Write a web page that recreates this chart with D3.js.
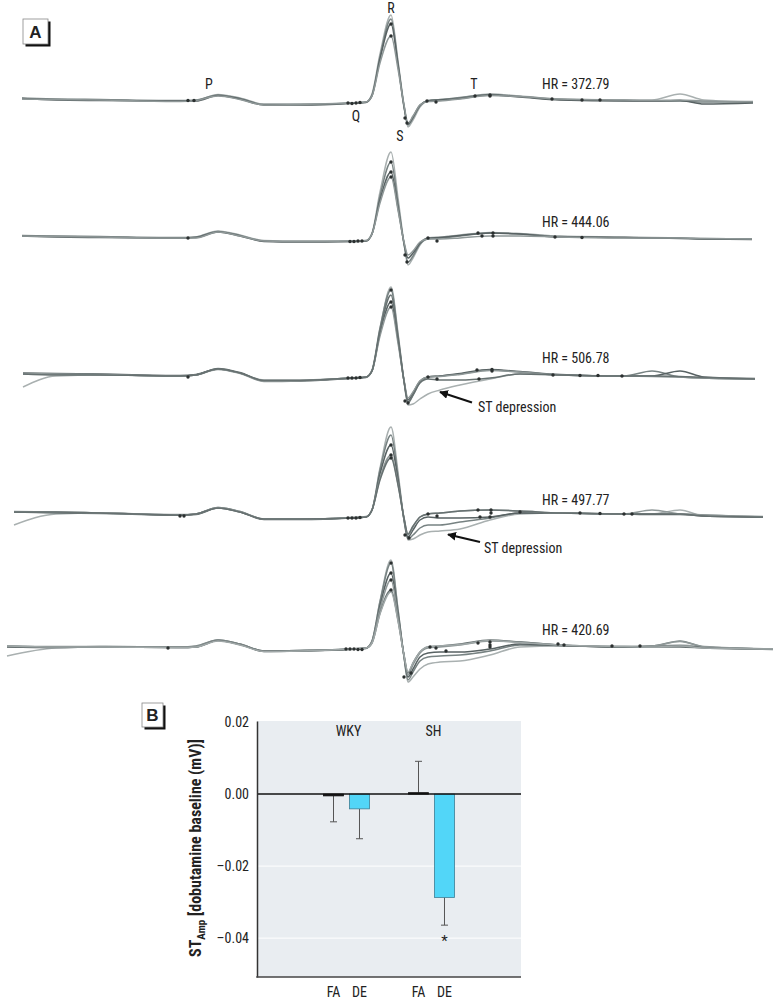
<!DOCTYPE html>
<html>
<head>
<meta charset="utf-8">
<script src="https://cdn.jsdelivr.net/npm/d3@7"></script>
<style>
  body { margin: 0; background: #fff; }
  svg text { font-family: "Liberation Sans Narrow", "Arial Narrow", "Roboto Condensed", sans-serif; fill: #222; }
</style>
</head>
<body>
<div id="chart"></div>
<script>
// ---------- panel A data: averaged ECG complexes (time in ms from R peak, voltage in mV) ----------
var timeMid = [-84, -73, -53, -49, -43.5, -38, -32, -23, -10.5, -6.5, -5, -3, -0.25, 1.5, 3, 4, 5.25, 7, 9, 12, 17, 24.5, 32, 42, 58, 65, 72, 78];
var rowStart = [-92.5, -92.5, -92.25, -94.5, -96.25];
var rowEnd = [90.25, 90, 90.75, 92.75, 95.25];
var heartRates = ["372.79", "444.06", "506.78", "497.77", "420.69"];

var traces1 = [
  [0, -0.005, -0.01, -0.02, -0.015, 0.045, 0.01, -0.05, -0.05, -0.04, -0.03, 0.05, 0.45, 0.84, 0.38, -0.06, -0.28, -0.21, -0.08, -0.02, -0.01, 0.01, 0.05, 0.03, 0.0, -0.01, -0.01, 0.05, -0.01, -0.03],
  [0.01, 0.0, -0.005, -0.015, -0.01, 0.04, 0.005, -0.055, -0.055, -0.04, -0.03, 0.04, 0.42, 0.80, 0.36, -0.07, -0.26, -0.19, -0.07, -0.015, -0.005, 0.015, 0.045, 0.025, -0.005, -0.015, -0.02, -0.02, -0.03, -0.03],
  [0.005, -0.01, -0.015, -0.02, -0.02, 0.035, 0.0, -0.06, -0.06, -0.045, -0.035, 0.03, 0.40, 0.75, 0.34, -0.08, -0.25, -0.18, -0.06, -0.02, -0.01, 0.005, 0.04, 0.02, -0.01, -0.02, -0.02, -0.015, -0.05, -0.04],
  [0.0, -0.005, -0.01, -0.025, -0.015, 0.03, -0.005, -0.06, -0.055, -0.04, -0.03, 0.03, 0.36, 0.63, 0.30, -0.06, -0.24, -0.17, -0.06, -0.025, -0.02, 0.0, 0.035, 0.025, 0.0, -0.01, -0.015, -0.01, -0.02, -0.025]
];
var traces2 = [
  [0, -0.005, -0.01, -0.02, -0.01, 0.05, 0.01, -0.045, -0.05, -0.05, -0.045, 0.03, 0.44, 0.84, 0.38, -0.07, -0.29, -0.22, -0.09, -0.02, -0.01, 0.01, 0.035, 0.025, 0.0, -0.01, -0.015, -0.02, -0.025, -0.03],
  [0.005, 0.0, -0.005, -0.015, -0.01, 0.045, 0.005, -0.05, -0.055, -0.055, -0.05, 0.02, 0.40, 0.74, 0.33, -0.08, -0.26, -0.2, -0.08, -0.03, -0.02, 0.0, 0.03, 0.02, -0.005, -0.015, -0.02, -0.02, -0.03, -0.03],
  [0.0, -0.01, -0.015, -0.02, -0.015, 0.04, 0.0, -0.055, -0.06, -0.055, -0.05, 0.02, 0.36, 0.64, 0.28, -0.07, -0.22, -0.17, -0.07, -0.02, -0.015, 0.005, 0.03, 0.02, -0.01, -0.015, -0.02, -0.025, -0.03, -0.035],
  [0.0, -0.005, -0.01, -0.02, -0.02, 0.04, 0.0, -0.05, -0.055, -0.05, -0.045, 0.02, 0.33, 0.59, 0.26, -0.06, -0.19, -0.15, -0.06, -0.03, -0.03, -0.02, 0.0, 0.0, -0.01, -0.02, -0.02, -0.02, -0.025, -0.03]
];
var traces3 = [
  [-0.14, -0.03, -0.02, -0.03, -0.02, 0.04, 0.0, -0.07, -0.07, -0.05, -0.04, 0.02, 0.44, 0.86, 0.40, -0.08, -0.32, -0.31, -0.26, -0.21, -0.17, -0.12, -0.06, -0.01, -0.02, -0.03, -0.03, -0.04, -0.05, -0.06],
  [-0.01, -0.01, -0.015, -0.03, -0.02, 0.045, 0.005, -0.075, -0.075, -0.05, -0.04, 0.03, 0.45, 0.83, 0.38, -0.08, -0.30, -0.22, -0.09, -0.04, -0.03, -0.01, 0.03, 0.01, -0.02, -0.03, 0.02, -0.04, -0.05, -0.06],
  [0.0, -0.005, -0.01, -0.025, -0.015, 0.04, 0.0, -0.08, -0.08, -0.055, -0.045, 0.02, 0.40, 0.71, 0.33, -0.08, -0.27, -0.2, -0.08, -0.04, -0.03, -0.005, 0.035, 0.015, -0.015, -0.03, -0.03, 0.02, -0.04, -0.055],
  [-0.005, -0.01, -0.015, -0.03, -0.02, 0.035, -0.005, -0.085, -0.08, -0.05, -0.04, 0.02, 0.37, 0.66, 0.30, -0.07, -0.25, -0.19, -0.08, -0.04, -0.035, -0.015, 0.025, 0.01, -0.02, -0.03, -0.035, -0.04, -0.05, -0.06],
  [-0.01, -0.02, -0.02, -0.03, -0.02, 0.04, 0.0, -0.075, -0.075, -0.05, -0.04, 0.02, 0.42, 0.78, 0.35, -0.08, -0.29, -0.22, -0.1, -0.06, -0.07, -0.07, -0.05, -0.01, -0.02, -0.03, -0.03, -0.035, -0.045, -0.06]
];
var traces4 = [
  [-0.15, -0.04, -0.03, -0.05, -0.04, 0.02, -0.02, -0.09, -0.09, -0.08, -0.07, 0.0, 0.42, 0.83, 0.38, -0.1, -0.30, -0.29, -0.25, -0.22, -0.21, -0.19, -0.10, -0.04, -0.03, -0.04, -0.04, 0.0, -0.06, -0.07],
  [-0.02, -0.03, -0.035, -0.05, -0.04, 0.025, -0.015, -0.09, -0.09, -0.08, -0.07, 0.0, 0.40, 0.75, 0.34, -0.1, -0.29, -0.25, -0.18, -0.15, -0.15, -0.12, -0.08, -0.03, -0.03, -0.04, -0.04, -0.04, -0.05, -0.07],
  [-0.02, -0.025, -0.03, -0.05, -0.045, 0.02, -0.02, -0.095, -0.095, -0.08, -0.07, 0.0, 0.36, 0.65, 0.30, -0.09, -0.27, -0.2, -0.1, -0.07, -0.08, -0.08, -0.07, -0.03, -0.03, -0.04, -0.045, -0.045, -0.06, -0.07],
  [-0.015, -0.02, -0.03, -0.045, -0.04, 0.025, -0.015, -0.09, -0.09, -0.075, -0.065, 0.0, 0.32, 0.55, 0.26, -0.08, -0.25, -0.17, -0.07, -0.04, -0.03, -0.01, 0.0, -0.01, -0.03, -0.04, 0.0, -0.04, -0.05, -0.065],
  [-0.02, -0.02, -0.03, -0.05, -0.04, 0.02, -0.02, -0.09, -0.09, -0.08, -0.07, 0.0, 0.30, 0.52, 0.25, -0.08, -0.24, -0.16, -0.07, -0.04, -0.03, -0.01, 0.0, -0.01, -0.03, -0.04, -0.04, -0.04, -0.06, -0.07]
];
var traces5 = [
  [-0.09, -0.01, 0.0, 0.0, 0.005, 0.07, 0.03, -0.04, -0.035, -0.02, -0.01, 0.06, 0.46, 0.87, 0.38, -0.1, -0.35, -0.3, -0.22, -0.17, -0.15, -0.14, -0.08, 0.0, 0.01, 0.0, 0.01, 0.02, 0.0, -0.02],
  [0.01, 0.0, 0.005, 0.0, 0.01, 0.07, 0.03, -0.04, -0.035, -0.02, -0.01, 0.06, 0.45, 0.84, 0.37, -0.1, -0.33, -0.25, -0.14, -0.1, -0.09, -0.08, -0.04, 0.02, 0.015, 0.005, 0.01, 0.06, 0.0, -0.02],
  [0.0, -0.005, 0.0, -0.005, 0.0, 0.065, 0.025, -0.045, -0.04, -0.025, -0.015, 0.05, 0.41, 0.74, 0.33, -0.09, -0.30, -0.22, -0.1, -0.06, -0.05, -0.05, -0.02, 0.03, 0.015, 0.0, 0.005, 0.01, -0.005, -0.02],
  [0.01, 0.005, 0.005, 0.0, 0.005, 0.07, 0.03, -0.04, -0.035, -0.02, -0.01, 0.05, 0.38, 0.67, 0.30, -0.09, -0.28, -0.18, -0.06, -0.01, 0.0, 0.02, 0.06, 0.05, 0.02, 0.005, 0.01, 0.055, 0.005, -0.02],
  [0.005, 0.0, 0.0, -0.005, 0.0, 0.065, 0.025, -0.04, -0.04, -0.02, -0.01, 0.04, 0.34, 0.57, 0.27, -0.08, -0.26, -0.16, -0.05, 0.0, 0.01, 0.03, 0.07, 0.05, 0.02, 0.0, 0.0, 0.0, -0.01, -0.025],
  [0.01, 0.0, 0.0, -0.005, 0.0, 0.06, 0.02, -0.045, -0.04, -0.02, -0.01, 0.04, 0.33, 0.55, 0.26, -0.08, -0.25, -0.16, -0.05, 0.0, 0.01, 0.025, 0.065, 0.045, 0.02, 0.005, 0.0, 0.01, -0.01, -0.02]
];
var allTraces = [traces1, traces2, traces3, traces4, traces5];

// fiducial points [ms, mV]
var markers1 = [[-51, -0.015], [-49.5, -0.015], [-11, -0.04], [-10, -0.045], [-9, -0.04], [-8, -0.035], [-0.25, 0.75], [-0.25, 0.63], [3.25, -0.19], [3.75, -0.24], [8.75, -0.02], [11, -0.03], [20.75, 0.03], [24.5, 0.04], [24.5, 0.03], [40, 0.0], [47.5, -0.01], [52, -0.01]];
var markers2 = [[-51, -0.02], [-10.5, -0.055], [-9.5, -0.055], [-8.5, -0.05], [-7.5, -0.05], [-0.25, 0.74], [-0.25, 0.64], [-0.25, 0.59], [3.25, -0.19], [3.75, -0.26], [9, -0.02], [11.25, -0.05], [21.5, 0.03], [22.5, 0.0], [25.25, 0.03], [25.25, 0.0], [40.75, -0.01], [47.5, -0.015]];
var markers3 = [[-51, -0.04], [-11, -0.05], [-10, -0.05], [-9, -0.05], [-8, -0.045], [-0.25, 0.83], [-0.25, 0.71], [-0.25, 0.66], [3.25, -0.28], [4, -0.3], [9, -0.04], [11.25, -0.06], [21.75, -0.06], [21.25, 0.03], [25, 0.035], [25, 0.02], [40.25, -0.02], [47, -0.025], [51.5, -0.025], [57.5, -0.03]];
var markers4 = [[-53, -0.06], [-52, -0.06], [-11, -0.08], [-10, -0.08], [-9, -0.08], [-8, -0.075], [-0.25, 0.65], [-0.25, 0.55], [-0.25, 0.52], [3.25, -0.25], [4.25, -0.28], [9, -0.04], [11.25, -0.06], [22, -0.07], [24.5, -0.07], [21.5, 0.0], [24.75, 0.0], [24.75, -0.03], [32, -0.02], [47, -0.03], [52, -0.035], [58, -0.04], [60, -0.04]];
var markers5 = [[-56, -0.01], [-11.5, -0.02], [-10.5, -0.02], [-9.5, -0.02], [-8.5, -0.025], [-7.5, -0.025], [-0.25, 0.84], [-0.25, 0.74], [-0.25, 0.67], [-0.25, 0.57], [3, -0.3], [4.75, -0.26], [9.5, 0.0], [11, -0.01], [13.5, -0.04], [21.5, 0.04], [24.5, 0.05], [24.5, 0.0], [24.5, 0.02], [41.5, 0.03], [43, 0.02], [55, 0.01], [62, 0.01]];
var allMarkers = [markers1, markers2, markers3, markers4, markers5];

// wave labels on first complex [label, ms, mV]
var waveLabels = [["P", -45.75, 0.10], ["Q", -9, -0.22], ["R", -0.25, 0.86], ["S", 2, -0.42], ["T", 20.5, 0.10]];
var hrLabelV = [0.10, 0.09, 0.10, 0.05, 0.12];
// ST depression notes [row, text ms, text mV, arrow tail ms, tail mV, tip ms, tip mV]
var stNotes = [[2, 21.5, -0.39, 20, -0.295, 12, -0.19], [3, 23, -0.43, 22, -0.32, 14, -0.245]];

// ---------- panel B data ----------
var groups = ["WKY", "SH"];
var exposures = ["FA", "DE"];
var stAmp = [
  { group: "WKY", exp: "FA", value: -0.0005, err: 0.0072 },
  { group: "WKY", exp: "DE", value: -0.0041, err: 0.0083 },
  { group: "SH", exp: "FA", value: 0.0004, err: 0.0087 },
  { group: "SH", exp: "DE", value: -0.0287, err: 0.0077 }
];
var yTicks = [0.02, 0, -0.02, -0.04];

var svgWidth = 778;
var svgHeight = 999;

var svg = d3.select("#chart")
  .append("svg")
  .attr("width", svgWidth)
  .attr("height", svgHeight);

// ================= Panel A =================
var xEcg = d3.scaleLinear().domain([-98, 96]).range([0, 776]);
var rowY = d3.scalePoint().domain(d3.range(5)).range([99, 647]);
var yEcg = d3.scaleLinear().domain([0, 1]).range([0, -100]);

var traceColors = ["#a9b0b0", "#778282", "#586263", "#8f9898", "#677171", "#a0a8a8"];

svg.append("defs").append("marker")
  .attr("id", "arrow")
  .attr("viewBox", "0 0 10 10")
  .attr("refX", 9)
  .attr("refY", 5)
  .attr("markerWidth", 4)
  .attr("markerHeight", 4)
  .attr("orient", "auto")
  .append("path")
  .attr("d", "M0,0L10,5L0,10z")
  .attr("fill", "#111");

allTraces.forEach(function(rowTraces, r) {
  var times = [rowStart[r]].concat(timeMid, [rowEnd[r]]);
  var line = d3.line()
    .x(function(d, i) { return xEcg(times[i]); })
    .y(function(d) { return yEcg(d); })
    .curve(d3.curveMonotoneX);

  var g = svg.append("g")
    .attr("transform", `translate(0, ${rowY(r)})`);

  g.selectAll("path.trace")
    .data(rowTraces)
    .enter()
    .append("path")
    .attr("class", "trace")
    .attr("d", line)
    .attr("fill", "none")
    .attr("stroke", function(d, i) { return traceColors[i % traceColors.length]; })
    .attr("stroke-width", 1.5)
    .attr("stroke-linejoin", "round");

  g.selectAll("circle")
    .data(allMarkers[r])
    .enter()
    .append("circle")
    .attr("cx", d => xEcg(d[0]))
    .attr("cy", d => yEcg(d[1]))
    .attr("r", 1.7)
    .attr("fill", "#2b3030");

  g.append("text")
    .attr("x", xEcg(37.5))
    .attr("y", yEcg(hrLabelV[r]))
    .attr("font-size", 14)
    .text("HR = " + heartRates[r]);

  if (r === 0) {
    g.selectAll("text.wave")
      .data(waveLabels)
      .enter()
      .append("text")
      .attr("class", "wave")
      .attr("x", d => xEcg(d[1]))
      .attr("y", d => yEcg(d[2]))
      .attr("text-anchor", "middle")
      .attr("font-size", 14)
      .text(d => d[0]);
  }

  stNotes.filter(d => d[0] === r).forEach(function(n) {
    g.append("text")
      .attr("x", xEcg(n[1]))
      .attr("y", yEcg(n[2]))
      .attr("font-size", 14)
      .text("ST depression");
    g.append("line")
      .attr("x1", xEcg(n[3]))
      .attr("y1", yEcg(n[4]))
      .attr("x2", xEcg(n[5]))
      .attr("y2", yEcg(n[6]))
      .attr("stroke", "#111")
      .attr("stroke-width", 2.2)
      .attr("marker-end", "url(#arrow)");
  });
});

// panel letter boxes
function panelBox(x, y, w, h, letter) {
  svg.append("rect")
    .attr("x", x + 2.5).attr("y", y + 2.5)
    .attr("width", w).attr("height", h)
    .attr("fill", "#111");
  svg.append("rect")
    .attr("x", x).attr("y", y)
    .attr("width", w).attr("height", h)
    .attr("fill", "#fff")
    .attr("stroke", "#888")
    .attr("stroke-width", 0.8);
  svg.append("text")
    .attr("x", x + w / 2)
    .attr("y", y + h / 2 + 6)
    .attr("text-anchor", "middle")
    .attr("font-size", 17)
    .attr("font-weight", "bold")
    .style("font-family", "Liberation Sans, Arial, sans-serif")
    .text(letter);
}
panelBox(23, 19, 25, 25, "A");
panelBox(142, 703, 21, 24, "B");

// ================= Panel B =================
var plotLeft = 257, plotRight = 521, plotTop = 721, plotBottom = 977;

var yB = d3.scaleLinear().domain([-0.0508, 0.0203]).range([plotBottom, plotTop]);
var xGroup = d3.scaleBand().domain(groups).range([304, 474]);
var xExp = d3.scaleBand().domain(exposures).range([0, xGroup.bandwidth()])
  .paddingInner(0.23).paddingOuter(0.75);

var chartB = svg.append("g");

chartB.append("rect")
  .attr("x", plotLeft).attr("y", plotTop)
  .attr("width", plotRight - plotLeft).attr("height", plotBottom - plotTop)
  .attr("fill", "#e9edf1");

chartB.selectAll("line.grid")
  .data(yTicks.filter(d => d < 0))
  .enter()
  .append("line")
  .attr("class", "grid")
  .attr("x1", plotLeft).attr("x2", plotRight)
  .attr("y1", d => yB(d)).attr("y2", d => yB(d))
  .attr("stroke", "#fff")
  .attr("stroke-width", 1);

// error bars
chartB.selectAll("g.err")
  .data(stAmp)
  .enter()
  .append("g")
  .attr("class", "err")
  .each(function(d) {
    var cx = xGroup(d.group) + xExp(d.exp) + xExp.bandwidth() / 2;
    var end = d.value >= 0 ? d.value + d.err : d.value - d.err;
    var g = d3.select(this);
    g.append("line")
      .attr("x1", cx).attr("x2", cx)
      .attr("y1", yB(d.value)).attr("y2", yB(end))
      .attr("stroke", "#555").attr("stroke-width", 1);
    g.append("line")
      .attr("x1", cx - 3.5).attr("x2", cx + 3.5)
      .attr("y1", yB(end)).attr("y2", yB(end))
      .attr("stroke", "#555").attr("stroke-width", 1);
  });

chartB.selectAll("rect.bar")
  .data(stAmp)
  .enter()
  .append("rect")
  .attr("class", "bar")
  .attr("x", d => xGroup(d.group) + xExp(d.exp))
  .attr("width", xExp.bandwidth())
  .attr("y", d => yB(Math.max(0, d.value)))
  .attr("height", d => Math.max(1.5, Math.abs(yB(d.value) - yB(0))))
  .attr("fill", d => d.exp === "FA" ? "#111" : "#52d6f8")
  .attr("stroke", d => d.exp === "FA" ? "#111" : "#3c7f96")
  .attr("stroke-width", 0.8);

// zero line
chartB.append("line")
  .attr("x1", plotLeft).attr("x2", plotRight)
  .attr("y1", yB(0)).attr("y2", yB(0))
  .attr("stroke", "#111")
  .attr("stroke-width", 1.5);

// axes
var leftAxis = d3.axisLeft(yB)
  .tickValues(yTicks)
  .tickSize(0)
  .tickPadding(8)
  .tickFormat(d => d3.format(".2f")(d).replace("−", "–").replace("-", "–"));

var yAxisG = chartB.append("g")
  .attr("transform", `translate(${plotLeft}, 0)`)
  .call(leftAxis);
yAxisG.select(".domain").attr("stroke", "#333").attr("stroke-width", 1.5);
yAxisG.selectAll("text")
  .attr("font-size", 14)
  .style("font-family", "Liberation Sans Narrow, Arial Narrow, Roboto Condensed, sans-serif")
  .attr("fill", "#222");

chartB.append("line")
  .attr("x1", plotLeft - 0.75).attr("x2", plotRight)
  .attr("y1", plotBottom).attr("y2", plotBottom)
  .attr("stroke", "#444")
  .attr("stroke-width", 1.5);

// category labels
chartB.selectAll("text.exp")
  .data(stAmp)
  .enter()
  .append("text")
  .attr("class", "exp")
  .attr("x", d => xGroup(d.group) + xExp(d.exp) + xExp.bandwidth() / 2)
  .attr("y", 997)
  .attr("text-anchor", "middle")
  .attr("font-size", 14)
  .text(d => d.exp);

chartB.selectAll("text.group")
  .data(groups)
  .enter()
  .append("text")
  .attr("class", "group")
  .attr("x", d => xGroup(d) + xGroup.bandwidth() / 2 + 2)
  .attr("y", 736)
  .attr("text-anchor", "middle")
  .attr("font-size", 14)
  .text(d => d);

// significance mark
var sig = stAmp[3];
chartB.append("text")
  .attr("x", xGroup(sig.group) + xExp(sig.exp) + xExp.bandwidth() / 2)
  .attr("y", yB(sig.value - sig.err) + 21)
  .attr("text-anchor", "middle")
  .attr("font-size", 15)
  .attr("fill", "#555")
  .text("*");

// y axis title
var yTitle = chartB.append("text")
  .attr("transform", "translate(201, 848) rotate(-90)")
  .attr("text-anchor", "middle")
  .attr("font-size", 16)
  .attr("font-weight", "bold");
yTitle.append("tspan").text("ST");
yTitle.append("tspan").attr("font-size", 11).attr("dy", 4).text("Amp");
yTitle.append("tspan").attr("dy", -4).text(" [dobutamine baseline (mV)]");
</script>
</body>
</html>
